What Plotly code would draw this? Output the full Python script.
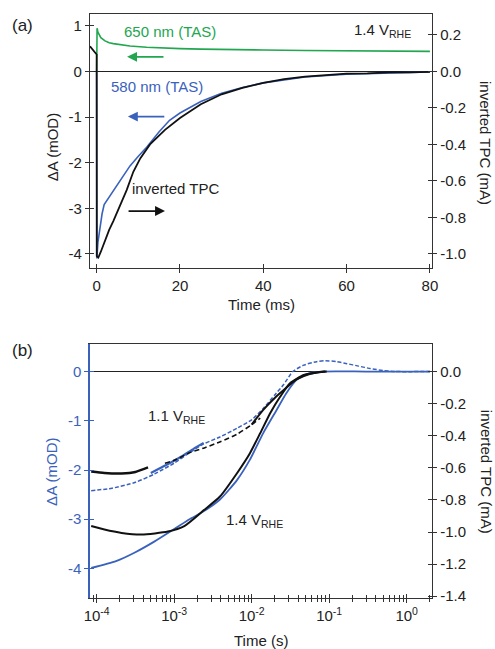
import plotly.graph_objects as go

# ---------------- Panel (a): 1.4 V_RHE, linear time (ms) ----------------
t650_ms = [0, 0.1, 0.3, 0.6, 1, 2, 3, 4, 6, 8, 12, 16, 20, 25, 30, 40, 50, 60, 70, 80]
tas650_mOD = [0, 0.95, 0.86, 0.79, 0.74, 0.67, 0.63, 0.61, 0.58, 0.56, 0.53, 0.51, 0.50,
              0.49, 0.48, 0.47, 0.46, 0.45, 0.45, 0.44]

t580_ms = [0, 0.05, 0.3, 0.8, 1.3, 1.8, 2.4, 3.0, 4, 5.2, 6.4, 8, 10, 12, 15, 17.5, 20, 25,
           30, 35, 40, 50, 60, 70, 80]
tas580_mOD = [0, -4.1, -3.75, -3.40, -3.12, -2.92, -2.84, -2.76, -2.62, -2.45, -2.28, -2.07,
              -1.86, -1.66, -1.32, -1.07, -0.91, -0.66, -0.48, -0.35, -0.25, -0.12, -0.06,
              -0.03, -0.01]

ttpc_ms = [-1.6, -0.8, 0, 0.02, 0.4, 1, 2, 3, 4, 5.6, 7.2, 8.8, 10.5, 12.8, 16.4, 20,
           25, 30, 35, 40, 45, 50, 55, 60, 65, 70, 75, 80]
tpc_a_mA = [0.138, 0.118, 0.093, -1.012, -1.02, -0.988, -0.925, -0.868, -0.82, -0.738,
            -0.65, -0.55, -0.475, -0.40, -0.32, -0.255, -0.18, -0.125, -0.09, -0.062,
            -0.042, -0.028, -0.018, -0.012, -0.01, -0.005, -0.005, -0.002]

# ---------------- Panel (b): log time (s) ----------------
t_b14_tas = [8.5e-5, 1.78e-4, 3.16e-4, 5.6e-4, 1.0e-3, 1.58e-3, 2.4e-3, 3.9e-3, 6.5e-3,
             9.5e-3, 1.41e-2, 2.1e-2, 2.8e-2, 3.8e-2, 5.6e-2, 8.3e-2, 0.3, 2.0]
tas_b14 = [-3.99, -3.85, -3.67, -3.45, -3.20, -3.00, -2.84, -2.60, -2.20, -1.79, -1.25,
           -0.78, -0.44, -0.17, -0.03, 0.0, 0.0, 0.0]

t_b14_tpc = [8.5e-5, 1.26e-4, 2.1e-4, 3.8e-4, 8.3e-4, 1.35e-3, 2.4e-3, 3.9e-3, 6.5e-3,
             9.5e-3, 1.29e-2, 1.74e-2, 2.34e-2, 3.1e-2, 4.7e-2, 6.9e-2, 8.9e-2]
tpc_b14 = [-0.963, -0.985, -1.006, -1.016, -0.997, -0.963, -0.865, -0.779, -0.632,
           -0.509, -0.384, -0.258, -0.156, -0.074, -0.021, -0.006, 0.0]

t_b11_tas = [8.5e-5, 1.58e-4, 3.16e-4, 5.6e-4, 1.0e-3, 1.58e-3, 2.4e-3, 3.9e-3, 6.5e-3,
             1.0e-2, 1.41e-2, 2.0e-2, 2.57e-2, 3.4e-2, 4.7e-2, 6.9e-2, 8.9e-2, 0.126,
             0.17, 0.24, 0.34, 0.5, 0.71, 2.0]
tas_b11 = [-2.42, -2.37, -2.25, -2.08, -1.86, -1.65, -1.47, -1.33, -1.15, -0.98, -0.75,
           -0.47, -0.27, 0.0, 0.13, 0.20, 0.22, 0.20, 0.16, 0.11, 0.06, 0.02, 0.0, 0.0]
t_b11_tas_us = [5.0e-4, 7.9e-4, 1.26e-3, 1.78e-3, 2.4e-3]
tas_b11_us = [-2.06, -1.90, -1.72, -1.57, -1.45]

t_b11_tpc_early = [8.5e-5, 1.26e-4, 2.1e-4, 3.16e-4, 4.6e-4]
tpc_b11_early = [-0.623, -0.632, -0.635, -0.626, -0.598]
t_b11_tpc_mid = [7.6e-4, 1.02e-3, 1.58e-3, 2.45e-3, 4.0e-3, 6.5e-3, 1.0e-2, 1.29e-2]
tpc_b11_mid = [-0.571, -0.552, -0.506, -0.476, -0.436, -0.390, -0.331, -0.291]
t_b11_tpc_late = [1.0e-2, 1.41e-2, 2.0e-2, 2.57e-2, 3.8e-2, 5.6e-2, 7.9e-2, 9.3e-2]
tpc_b11_late = [-0.331, -0.239, -0.163, -0.117, -0.049, -0.015, -0.003, 0.0]

# ---------------- ticks ----------------
a_xticks = [0, 20, 40, 60, 80]
a_lticks = [-4, -3, -2, -1, 0, 1]
a_rticks = [-1.0, -0.8, -0.6, -0.4, -0.2, 0.0, 0.2]
b_xticks = [1e-4, 1e-3, 1e-2, 1e-1, 1e0]
b_xlabels = ["10<sup>-4</sup>", "10<sup>-3</sup>", "10<sup>-2</sup>", "10<sup>-1</sup>", "10<sup>0</sup>"]
b_lticks = [-4, -3, -2, -1, 0]
b_rticks = [-1.4, -1.2, -1.0, -0.8, -0.6, -0.4, -0.2, 0.0]
b_minor = [m * 10.0 ** e for e in range(-5, 1) for m in range(2, 10)]

BLUE = "#3a62bd"
GREEN = "#22a64f"
BLACK = "#111111"
AX = "#333333"
TXT = "#222222"
FONT = "Liberation Sans, Arial, sans-serif"

def rlab(v):
    return "{:.1f}".format(v).replace("-0.0", "0.0")

fig = go.Figure()

# Panel (a)
fig.add_trace(go.Scatter(x=t580_ms, y=tas580_mOD, mode="lines", line=dict(color=BLUE, width=1.6),
                         xaxis="x", yaxis="y", showlegend=False))
fig.add_trace(go.Scatter(x=t650_ms, y=tas650_mOD, mode="lines", line=dict(color=GREEN, width=1.6),
                         xaxis="x", yaxis="y", showlegend=False))
fig.add_trace(go.Scatter(x=ttpc_ms, y=tpc_a_mA, mode="lines", line=dict(color=BLACK, width=1.8),
                         xaxis="x", yaxis="y2", showlegend=False))

# Panel (b)
sp = dict(shape="spline", smoothing=0.6)
fig.add_trace(go.Scatter(x=t_b14_tas, y=tas_b14, mode="lines", line=dict(color=BLUE, width=1.8, **sp),
                         xaxis="x2", yaxis="y3", showlegend=False))
fig.add_trace(go.Scatter(x=t_b11_tas, y=tas_b11, mode="lines",
                         line=dict(color=BLUE, width=1.5, dash="4px,2px", **sp),
                         xaxis="x2", yaxis="y3", showlegend=False))
fig.add_trace(go.Scatter(x=t_b11_tas_us, y=tas_b11_us, mode="lines", line=dict(color=BLUE, width=2.2, **sp),
                         xaxis="x2", yaxis="y3", showlegend=False))
fig.add_trace(go.Scatter(x=t_b14_tpc, y=tpc_b14, mode="lines", line=dict(color=BLACK, width=2.0, **sp),
                         xaxis="x2", yaxis="y4", showlegend=False))
fig.add_trace(go.Scatter(x=t_b11_tpc_early, y=tpc_b11_early, mode="lines",
                         line=dict(color=BLACK, width=2.4, **sp),
                         xaxis="x2", yaxis="y4", showlegend=False))
fig.add_trace(go.Scatter(x=t_b11_tpc_mid, y=tpc_b11_mid, mode="lines",
                         line=dict(color=BLACK, width=1.6, dash="5px,3px", **sp),
                         xaxis="x2", yaxis="y4", showlegend=False))
fig.add_trace(go.Scatter(x=t_b11_tpc_late, y=tpc_b11_late, mode="lines",
                         line=dict(color=BLACK, width=2.0, **sp),
                         xaxis="x2", yaxis="y4", showlegend=False))

# invisible traces to register the inner-tick overlay axes
for xa, ya in [("x3", "y5"), ("x3", "y6"), ("x4", "y7"), ("x4", "y8")]:
    fig.add_trace(go.Scatter(x=[None], y=[None], xaxis=xa, yaxis=ya, showlegend=False,
                             hoverinfo="skip", mode="lines"))

tickfont = dict(family=FONT, size=15, color=TXT)
common = dict(showgrid=False, zeroline=False, ticklen=4, tickwidth=1.2, automargin=False)

A_DOM = [0.565, 1.0]
B_DOM = [0.0, 0.435]
A_X = [-1.6, 80.5]
A_L = [-4.31, 1.26]
A_R = [-4.31 / 4, 1.26 / 4]
B_X = [-4.086, 0.327]
B_L = [-4.6, 0.56]
B_R = [-4.6 * 0.3068, 0.56 * 0.3068]

layout = dict(
    width=495, height=649, template="none",
    paper_bgcolor="white", plot_bgcolor="white",
    margin=dict(l=90, r=63, t=14, b=51),
    font=dict(family=FONT, size=15, color=TXT),
    showlegend=False,
    # ---- panel (a)
    xaxis=dict(domain=[0, 1], anchor="y", range=A_X, tickmode="array", tickvals=a_xticks,
               ticktext=[str(v) for v in a_xticks], ticks="outside", showline=True,
               mirror=True, linecolor=AX, linewidth=1.3, tickcolor=AX, tickfont=tickfont, **common),
    yaxis=dict(domain=A_DOM, anchor="x", range=A_L, tickmode="array", tickvals=a_lticks,
               ticktext=[str(v) for v in a_lticks], ticks="outside", showline=True,
               linecolor=AX, linewidth=1.3, tickcolor=AX, tickfont=tickfont,
               **{**common, "zeroline": True}, zerolinecolor="#222", zerolinewidth=1.2),
    yaxis2=dict(overlaying="y", side="right", anchor="x", range=A_R, tickmode="array",
                tickvals=a_rticks, ticktext=[rlab(v) for v in a_rticks],
                ticks="outside", showline=True, linecolor=AX, linewidth=1.3, tickcolor=AX,
                tickfont=tickfont, **common),
    xaxis3=dict(overlaying="x", anchor="y", range=A_X, tickmode="array", tickvals=a_xticks,
                ticks="inside", showticklabels=False, showline=False, tickcolor=AX, **common),
    yaxis5=dict(overlaying="y", side="left", anchor="x", range=A_L, tickmode="array",
                tickvals=a_lticks, ticks="inside", showticklabels=False, showline=False,
                tickcolor=AX, **common),
    yaxis6=dict(overlaying="y", side="right", anchor="x", range=A_R, tickmode="array",
                tickvals=a_rticks, ticks="inside", showticklabels=False, showline=False,
                tickcolor=AX, **common),
    # ---- panel (b)
    xaxis2=dict(domain=[0, 1], anchor="y3", type="log", range=B_X, tickmode="array",
                tickvals=b_xticks, ticktext=b_xlabels, ticks="outside", showline=True,
                mirror=True, linecolor=AX, linewidth=1.3, tickcolor=AX, tickfont=tickfont,
                minor=dict(tickmode="array", tickvals=b_minor, ticks="outside", ticklen=3,
                           tickcolor=AX, showgrid=False),
                **common),
    yaxis3=dict(domain=B_DOM, anchor="x2", range=B_L, tickmode="array", tickvals=b_lticks,
                ticktext=[str(v) for v in b_lticks], ticks="outside", showline=True,
                linecolor=BLUE, linewidth=1.5, tickcolor=BLUE,
                tickfont=dict(family=FONT, size=15, color=BLUE),
                **{**common, "zeroline": True}, zerolinecolor="#222", zerolinewidth=1.2),
    yaxis4=dict(overlaying="y3", side="right", anchor="x2", range=B_R, tickmode="array",
                tickvals=b_rticks, ticktext=[rlab(v) for v in b_rticks],
                ticks="outside", showline=True, linecolor=AX, linewidth=1.3, tickcolor=AX,
                tickfont=tickfont, **common),
    xaxis4=dict(overlaying="x2", anchor="y3", type="log", range=B_X, tickmode="array",
                tickvals=b_xticks, ticks="inside", showticklabels=False, showline=False,
                tickcolor=AX,
                minor=dict(tickmode="array", tickvals=b_minor, ticks="inside", ticklen=3,
                           tickcolor=AX, showgrid=False),
                **common),
    yaxis7=dict(overlaying="y3", side="left", anchor="x2", range=B_L, tickmode="array",
                tickvals=b_lticks, ticks="inside", showticklabels=False, showline=False,
                tickcolor=BLUE, **common),
    yaxis8=dict(overlaying="y3", side="right", anchor="x2", range=B_R, tickmode="array",
                tickvals=b_rticks, ticks="inside", showticklabels=False, showline=False,
                tickcolor=AX, **common),
)
fig.update_layout(**layout)

def pap(x, y, text, size=15, color=TXT, angle=0):
    return dict(xref="paper", yref="paper", x=x, y=y, text=text, showarrow=False,
                textangle=angle, font=dict(family=FONT, size=size, color=color),
                xanchor="center", yanchor="middle")

def dat(xr, yr, x, y, text, color=TXT, size=15):
    return dict(xref=xr, yref=yr, x=x, y=y, text=text, showarrow=False,
                font=dict(family=FONT, size=size, color=color), xanchor="center", yanchor="middle")

def arrow(x0, x1, y, color):
    return dict(xref="x", yref="y", axref="x", ayref="y", x=x1, y=y, ax=x0, ay=y, text="",
                showarrow=True, arrowhead=2, arrowsize=1.1, arrowwidth=1.8, arrowcolor=color)

annotations = [
    pap(-0.196, 0.981, "(a)", size=17),
    pap(-0.111, 0.772, "ΔA (mOD)", angle=-90),
    pap(1.158, 0.779, "inverted TPC (mA)", angle=90),
    pap(0.5, 0.502, "Time (ms)"),
    pap(-0.196, 0.423, "(b)", size=17),
    pap(-0.111, 0.216, "ΔA (mOD)", color=BLUE, angle=-90),
    pap(1.158, 0.216, "inverted TPC (mA)", angle=90),
    pap(0.5, -0.072, "Time (s)"),
    dat("x", "y", 17.6, 0.87, "650 nm (TAS)", color=GREEN),
    dat("x", "y", 68.6, 0.89, "1.4 V<sub>RHE</sub>"),
    dat("x", "y", 14.5, -0.34, "580 nm (TAS)", color=BLUE),
    dat("x", "y", 19.0, -2.57, "inverted TPC"),
    arrow(16.4, 7.3, 0.32, GREEN),
    arrow(16.6, 7.5, -0.99, BLUE),
    arrow(7.3, 16.4, -3.06, BLACK),
    dat("x2", "y3", -2.97, -0.92, "1.1 V<sub>RHE</sub>"),
    dat("x2", "y3", -1.96, -3.03, "1.4 V<sub>RHE</sub>"),
]
fig.update_layout(annotations=annotations)

fig.write_html("out.html", config={"displayModeBar": False},
               post_script="document.body.style.margin='0';document.body.style.overflow='hidden';")
